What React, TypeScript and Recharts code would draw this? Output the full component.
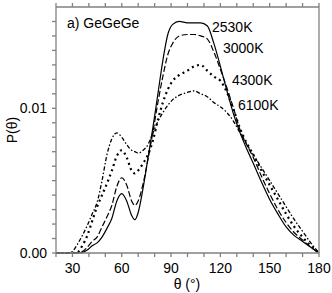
import React from "react"
import { LineChart, Line, XAxis, YAxis, Label } from "recharts"

// bond angle (degrees)
const theta = [20, 28, 30, 33, 36, 39, 42, 45, 48, 51, 54, 57, 60, 63, 66, 68, 70, 73, 76, 79, 82, 85, 88, 91, 95, 100, 104, 108, 112, 116, 120, 124, 128, 132, 136, 140, 145, 150, 155, 160, 165, 170, 175, 180]

// P(theta) for each temperature
const p2530 = [0, 0, 0, 0, 0.00003, 0.0002, 0.0005, 0.0007, 0.0011, 0.0017, 0.0024, 0.0036, 0.0041, 0.0036, 0.0026, 0.0023, 0.0028, 0.0045, 0.0066, 0.0087, 0.011, 0.0133, 0.0151, 0.0158, 0.016, 0.0159, 0.0159, 0.0159, 0.0157, 0.0145, 0.0129, 0.0112, 0.0096, 0.0083, 0.0072, 0.0062, 0.0049, 0.0037, 0.0027, 0.0018, 0.0012, 0.0008, 0.0004, 0]
const p3000 = [0, 0, 0, 0.00002, 0.0001, 0.0004, 0.0008, 0.0011, 0.0018, 0.0025, 0.0033, 0.0046, 0.0052, 0.0047, 0.0036, 0.0033, 0.0036, 0.0048, 0.0065, 0.0084, 0.0104, 0.0122, 0.0137, 0.0145, 0.015, 0.0151, 0.0151, 0.015, 0.0148, 0.0139, 0.0127, 0.0114, 0.01, 0.0085, 0.0075, 0.0066, 0.0053, 0.0041, 0.003, 0.0021, 0.0014, 0.0009, 0.0004, 0]
const p4300 = [0, 0, 0, 0.00005, 0.0005, 0.0012, 0.0022, 0.0032, 0.004, 0.0048, 0.0057, 0.0067, 0.0071, 0.0066, 0.0057, 0.0055, 0.0057, 0.0062, 0.0068, 0.0078, 0.0092, 0.0104, 0.0113, 0.0119, 0.0123, 0.0126, 0.0129, 0.013, 0.0126, 0.0122, 0.0119, 0.0111, 0.0099, 0.0086, 0.0076, 0.0068, 0.0057, 0.0047, 0.0037, 0.0027, 0.0018, 0.0011, 0.0005, 0]
const p6100 = [0, 0.00002, 0.0001, 0.0006, 0.0012, 0.0019, 0.0027, 0.0035, 0.005, 0.0068, 0.0079, 0.0083, 0.008, 0.0075, 0.0071, 0.007, 0.0069, 0.0071, 0.0075, 0.0083, 0.0091, 0.0097, 0.0102, 0.0106, 0.0109, 0.0111, 0.0112, 0.011, 0.0108, 0.0104, 0.0101, 0.0097, 0.0091, 0.0083, 0.0075, 0.0068, 0.0059, 0.005, 0.0041, 0.0032, 0.0023, 0.0015, 0.0007, 0]

const xTicks = [20, 30, 40, 50, 60, 70, 80, 90, 100, 110, 120, 130, 140, 150, 160, 170, 180]
const xLabels = [30, 60, 90, 120, 150, 180]
const yTicks = [0, 0.001, 0.002, 0.003, 0.004, 0.005, 0.006, 0.007, 0.008, 0.009, 0.01, 0.011, 0.012, 0.013, 0.014, 0.015, 0.016]
const yLabels = [0, 0.01]

const data = theta.map((t, i) => ({
  theta: t,
  t2530: p2530[i],
  t3000: p3000[i],
  t4300: p4300[i],
  t6100: p6100[i],
}))

const font = "'Liberation Sans', Arial, sans-serif"
const axisColor = "#808080"

const XTick = ({ x, y, payload }: any) =>
  xLabels.includes(payload.value) ? (
    <text x={x} y={y} dy={10} textAnchor="middle" fontSize={14} fontFamily={font} fill="#000">
      {payload.value}
    </text>
  ) : (
    <g />
  )

const YTick = ({ x, y, payload }: any) =>
  yLabels.includes(payload.value) ? (
    <text x={x} y={y} dy={5} textAnchor="end" fontSize={14} fontFamily={font} fill="#000">
      {payload.value.toFixed(2)}
    </text>
  ) : (
    <g />
  )

const Empty = () => <g />

const textStyle = { fontSize: 14, fontFamily: font, fill: "#000" }

export default function App() {
  return (
    <div style={{ position: "absolute", left: 0, top: 0, width: 332, height: 293 }}>
      <LineChart width={332} height={293} data={data} margin={{ top: 0, right: 0, left: 0, bottom: 0 }}>
        <XAxis
          xAxisId="b"
          dataKey="theta"
          type="number"
          domain={[20, 180]}
          ticks={xTicks}
          interval={0}
          height={40}
          tickSize={4}
          tickMargin={6}
          stroke={axisColor}
          strokeWidth={1.3}
          tick={<XTick />}
        >
          <Label
            content={() => (
              <text x={187} y={289} textAnchor="middle" {...textStyle}>
                θ (°)
              </text>
            )}
          />
        </XAxis>
        <XAxis
          xAxisId="t"
          orientation="top"
          dataKey="theta"
          type="number"
          domain={[20, 180]}
          ticks={xTicks}
          interval={0}
          height={7}
          tickSize={4}
          stroke={axisColor}
          strokeWidth={1.3}
          tick={<Empty />}
        />
        <YAxis
          yAxisId="l"
          type="number"
          domain={[0, 0.017]}
          ticks={yTicks}
          interval={0}
          width={56}
          tickSize={4}
          tickMargin={5}
          stroke={axisColor}
          strokeWidth={1.3}
          tick={<YTick />}
        >
          <Label
            content={() => (
              <text x={17} y={130} textAnchor="middle" transform="rotate(-90 17 130)" {...textStyle}>
                P(θ)
              </text>
            )}
          />
        </YAxis>
        <YAxis
          yAxisId="r"
          orientation="right"
          type="number"
          domain={[0, 0.017]}
          ticks={yTicks}
          interval={0}
          width={13}
          tickSize={4}
          stroke={axisColor}
          strokeWidth={1.3}
          tick={<Empty />}
        />
        <Line xAxisId="b" yAxisId="l" type="monotone" dataKey="t2530" stroke="#000" strokeWidth={1.2} dot={false} isAnimationActive={false} />
        <Line xAxisId="b" yAxisId="l" type="monotone" dataKey="t3000" stroke="#000" strokeWidth={1.2} strokeDasharray="6 2.5" dot={false} isAnimationActive={false} />
        <Line xAxisId="b" yAxisId="l" type="monotone" dataKey="t4300" stroke="#000" strokeWidth={2.2} strokeDasharray="2 3.5" dot={false} isAnimationActive={false} />
        <Line xAxisId="b" yAxisId="l" type="monotone" dataKey="t6100" stroke="#000" strokeWidth={1.3} strokeDasharray="4 2 1.5 2" dot={false} isAnimationActive={false} />
      </LineChart>
      <svg width={332} height={293} style={{ position: "absolute", left: 0, top: 0, pointerEvents: "none" }}>
        <text x={67} y={28} {...textStyle}>a) GeGeGe</text>
        <text x={212} y={31.5} {...textStyle}>2530K</text>
        <text x={223} y={53} {...textStyle}>3000K</text>
        <text x={232} y={85} {...textStyle}>4300K</text>
        <text x={238} y={110} {...textStyle}>6100K</text>
      </svg>
    </div>
  )
}
